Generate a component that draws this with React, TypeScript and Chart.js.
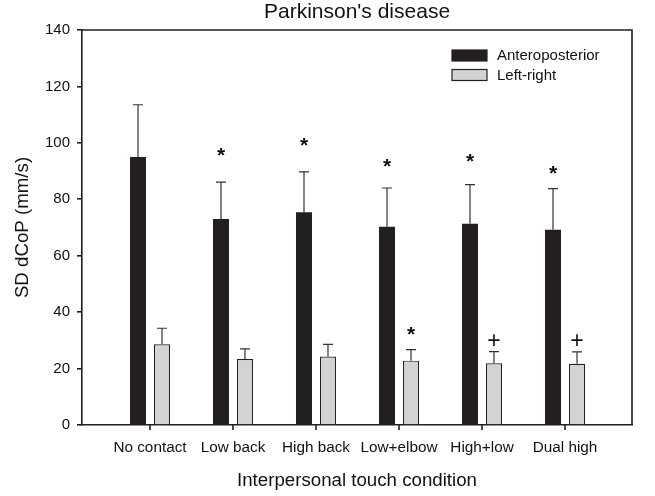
import React, { useEffect, useRef } from 'react';
import { Chart, registerables } from 'chart.js';

Chart.register(...registerables);

const categories = ['No contact', 'Low back', 'High back', 'Low+elbow', 'High+low', 'Dual high'];
const apMean = [95, 73, 75.4, 70.3, 71.3, 69.2];
const apSd = [18.5, 13.1, 14.3, 13.7, 13.9, 14.6];
const lrMean = [28.6, 23.4, 24.3, 22.8, 21.9, 21.7];
const lrSd = [5.7, 3.6, 4.3, 3.9, 4.1, 4.2];
const apMarks = ['', '*', '*', '*', '*', '*'];
const apMarkY = [0, 97, 100.7, 93, 95, 90.7];
const lrMarks = ['', '', '', '*', '+', '+'];
const lrMarkY = [0, 0, 0, 33.7, 29.9, 29.9];
const yTicks = [0, 20, 40, 60, 80, 100, 120, 140];
const seriesNames = ['Anteroposterior', 'Left-right'];
const chartTitle = "Parkinson's disease";
const xTitle = 'Interpersonal touch condition';
const yTitle = 'SD dCoP (mm/s)';

const FONT = "'Liberation Sans', Arial, sans-serif";
const AP_COLOR = '#231f20';
const LR_COLOR = '#d2d3d5';

const extrasPlugin = {
  id: 'extras',
  afterDatasetsDraw(chart: any) {
    const ctx = chart.ctx;
    const yScale = chart.scales.y;
    const sds = [apSd, lrSd];
    const means = [apMean, lrMean];
    const marks = [apMarks, lrMarks];
    const markY = [apMarkY, lrMarkY];
    ctx.save();
    for (let d = 0; d < 2; d++) {
      const meta = chart.getDatasetMeta(d);
      meta.data.forEach((el: any, i: number) => {
        const top = yScale.getPixelForValue(means[d][i] + sds[d][i]);
        const base = el.y;
        ctx.strokeStyle = '#333';
        ctx.lineWidth = 1.2;
        ctx.beginPath();
        ctx.moveTo(el.x, base);
        ctx.lineTo(el.x, top);
        ctx.moveTo(el.x - 5, top);
        ctx.lineTo(el.x + 5, top);
        ctx.stroke();
        const m = marks[d][i];
        if (m) {
          ctx.fillStyle = '#111';
          ctx.textAlign = 'center';
          ctx.textBaseline = 'middle';
          const py = yScale.getPixelForValue(markY[d][i]);
          if (m === '*') {
            ctx.font = `bold 21px ${FONT}`;
            ctx.fillText(m, el.x, py + 5);
          } else {
            ctx.font = `23px ${FONT}`;
            ctx.fillText(m, el.x, py + 1);
          }
        }
      });
    }
    ctx.restore();
  },
  afterDraw(chart: any) {
    const ctx = chart.ctx;
    const a = chart.chartArea;
    const xScale = chart.scales.x;
    ctx.save();
    ctx.strokeStyle = '#231f20';
    ctx.lineWidth = 1.6;
    ctx.beginPath();
    ctx.moveTo(a.left, a.top);
    ctx.lineTo(a.right, a.top);
    ctx.lineTo(a.right, a.bottom);
    ctx.stroke();
    // x tick marks
    ctx.beginPath();
    categories.forEach((_, i) => {
      const px = xScale.getPixelForValue(i);
      ctx.moveTo(px, a.bottom);
      ctx.lineTo(px, a.bottom + 5);
    });
    ctx.stroke();
    const colors = [AP_COLOR, LR_COLOR];
    ctx.font = `15px ${FONT}`;
    ctx.textBaseline = 'middle';
    ctx.textAlign = 'left';
    chart.data.datasets.forEach((ds: any, i: number) => {
      const bx = 452;
      const by = 50 + i * 19.5;
      ctx.fillStyle = colors[i];
      ctx.fillRect(bx, by, 35, 11);
      ctx.strokeStyle = '#231f20';
      ctx.lineWidth = 1.2;
      ctx.strokeRect(bx, by, 35, 11);
      ctx.fillStyle = '#111';
      ctx.fillText(ds.label, 497, by + 6);
    });
    ctx.fillStyle = '#111';
    ctx.textAlign = 'center';
    ctx.font = `21px ${FONT}`;
    ctx.fillText(chartTitle, (a.left + a.right) / 2, 12);
    ctx.font = `18.7px ${FONT}`;
    ctx.fillText(xTitle, (a.left + a.right) / 2, 481);
    ctx.translate(22.5, (a.top + a.bottom) / 2);
    ctx.rotate(-Math.PI / 2);
    ctx.fillText(yTitle, 0, 0);
    ctx.restore();
  },
};

export default function App() {
  const ref = useRef<HTMLCanvasElement>(null);
  useEffect(() => {
    document.body.style.margin = '0';
    const chart = new Chart(ref.current as HTMLCanvasElement, {
      type: 'bar',
      data: {
        datasets: [
          {
            label: seriesNames[0],
            data: apMean.map((y, i) => ({ x: i, y })),
            backgroundColor: AP_COLOR,
            borderColor: AP_COLOR,
            borderWidth: 0,
          },
          {
            label: seriesNames[1],
            data: lrMean.map((y, i) => ({ x: i, y })),
            backgroundColor: LR_COLOR,
            borderColor: '#231f20',
            borderWidth: 1.2,
          },
        ],
      } as any,
      options: {
        animation: false,
        responsive: false,
        devicePixelRatio: 1,
        categoryPercentage: 0.578,
        barPercentage: 0.667,
        layout: { padding: { top: 30, right: 23, left: 0, bottom: 0 } },
        plugins: { legend: { display: false }, tooltip: { enabled: false }, title: { display: false } },
        scales: {
          x: {
            type: 'linear',
            offset: false,
            min: -0.819,
            max: 5.807,
            afterBuildTicks: (s: any) => {
              s.ticks = categories.map((_, i) => ({ value: i }));
            },
            afterFit: (s: any) => {
              s.height = 71;
            },
            ticks: {
              callback: (v: any) => categories[v as number] ?? '',
              color: '#111',
              font: { family: FONT, size: 15.3 },
              padding: 9,
              maxRotation: 0,
              autoSkip: false,
            },
            grid: { display: false, drawTicks: true, tickLength: 5 },
            border: { display: true, color: '#231f20', width: 1.6 },
          },
          y: {
            min: 0,
            max: 140,
            afterBuildTicks: (s: any) => {
              s.ticks = yTicks.map((v) => ({ value: v }));
            },
            afterFit: (s: any) => {
              s.width = 82;
            },
            ticks: {
              color: '#111',
              font: { family: FONT, size: 15 },
              padding: 7,
            },
            grid: { display: true, drawOnChartArea: false, drawTicks: true, tickLength: 5, color: '#231f20', lineWidth: 1.6 },
            border: { display: true, color: '#231f20', width: 1.6 },
          },
        },
      } as any,
      plugins: [extrasPlugin],
    });
    return () => chart.destroy();
  }, []);
  return (
    <div style={{ width: 655, height: 496, background: '#fff' }}>
      <canvas ref={ref} width={655} height={496} style={{ width: 655, height: 496, display: 'block' }} />
    </div>
  );
}
